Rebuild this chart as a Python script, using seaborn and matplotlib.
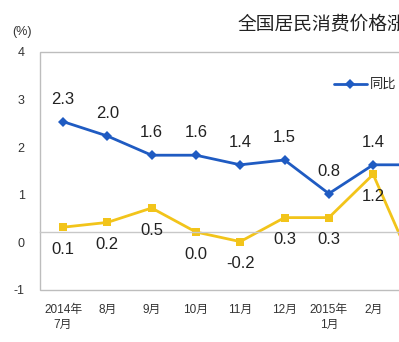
import numpy as np
import pandas as pd
import matplotlib
matplotlib.use("Agg")
import matplotlib.pyplot as plt
import seaborn as sns

# ---- data ----
months = ["2014年\n7月", "8月", "9月", "10月", "11月", "12月", "2015年\n1月", "2月", "3月"]
yoy = [2.3, 2.0, 1.6, 1.6, 1.4, 1.5, 0.8, 1.4, 1.4]      # 同比
mom = [0.1, 0.2, 0.5, 0.0, -0.2, 0.3, 0.3, 1.2, -0.9]    # 环比
series_names = ["同比", "环比"]
ytick_labels = ["-1", "0", "1", "2", "3", "4"]
title = "全国居民消费价格涨跌幅"

sns.set_style("white")
plt.rcParams["font.family"] = ["Liberation Sans", "Noto Sans CJK SC"]

df = pd.DataFrame({
    "pos": list(range(len(months))) * 2,
    "value": yoy + mom,
    "series": [series_names[0]] * len(yoy) + [series_names[1]] * len(mom),
})

blue = "#1f5bc2"
yellow = "#f2c41a"

fig = plt.figure(figsize=(3.99, 3.42), dpi=100)
W, H = 399, 342
ax = fig.add_axes([40 / W, 52 / H, 399.6 / W, 238 / H])

sns.lineplot(data=df, x="pos", y="value", hue="series", style="series",
             hue_order=series_names, style_order=series_names,
             palette={series_names[0]: blue, series_names[1]: yellow},
             markers={series_names[0]: "D", series_names[1]: "s"},
             dashes=False, markersize=5.5, linewidth=2, markeredgewidth=0,
             legend=False, ax=ax, clip_on=True)

ymin, ymax = -1.208, 3.75
ax.set_xlim(-0.52, 8.5)
ax.set_ylim(ymin, ymax)

# data labels
for i, v in enumerate(yoy):
    ax.annotate(f"{v:.1f}", (i, v), xytext=(0, 16), textcoords="offset points",
                ha="center", va="center", fontsize=12, color="#222222")
for i, v in enumerate(mom):
    ax.annotate(f"{v:.1f}", (i, v), xytext=(0, -16), textcoords="offset points",
                ha="center", va="center", fontsize=12, color="#222222")

# frame and zero category axis
ax.patch.set_edgecolor("#bdbdbd")
ax.patch.set_linewidth(1.0)
for s in ["top", "right", "left"]:
    ax.spines[s].set_visible(False)
ax.spines["bottom"].set_position(("data", 0))
ax.spines["bottom"].set_color("#c8c8c8")
ax.spines["bottom"].set_linewidth(1.0)

ax.set_xticks(range(len(months)))
ax.set_xticklabels(months, fontsize=8.5, color="#333333", linespacing=1.25)
ax.set_xticks(np.arange(len(months)) + 0.5, minor=True)
ax.tick_params(axis="x", which="major", length=0, pad=52)
ax.tick_params(axis="x", which="minor", direction="in", length=3.5, color="#c8c8c8", width=1)

ax.set_yticks(np.linspace(ymin, ymax, len(ytick_labels)))
ax.set_yticklabels(ytick_labels, fontsize=9, color="#333333")
ax.tick_params(axis="y", direction="in", length=3.5, color="#bdbdbd", width=1, pad=11)

ax.set_xlabel("")
ax.set_ylabel("")
ax.grid(False)

# legend
handles = ax.lines[:2]
fig.legend(handles, series_names, loc="center left", bbox_to_anchor=(334 / W, 1 - 85 / H),
           ncol=2, frameon=False, fontsize=9.5, handlelength=2.5, handletextpad=0.2,
           borderpad=0, borderaxespad=0, columnspacing=1.5)

fig.text(238 / W, 1 - 25 / H, title, fontsize=13.5, color="#222222", ha="left", va="center",
         family=["Noto Sans CJK SC"])
fig.text(12 / W, 1 - 32 / H, "(%)", fontsize=9, color="#333333", ha="left", va="center")

fig.savefig("out.png", dpi=100)
